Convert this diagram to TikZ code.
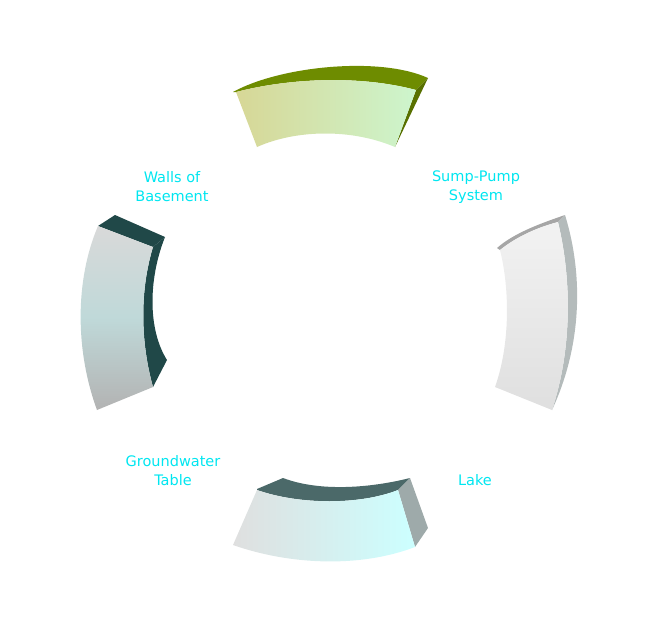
\documentclass[tikz,border=0pt]{standalone}
\usepackage{fontspec}
\setmainfont{DejaVu Sans}
\definecolor{lbl}{RGB}{0,230,240}
\definecolor{olive}{RGB}{110,140,0}
\definecolor{teal}{RGB}{40,90,90}
\definecolor{tan}{RGB}{215,215,150}
\definecolor{mint}{RGB}{205,245,205}
\begin{document}
\begin{tikzpicture}[x=1pt,y=-1pt]
\tikzset{lab/.style={text=lbl,align=center,font=\fontsize{14.5}{19}\selectfont}}
\useasboundingbox (0,0) rectangle (649,638);

% top segment
\fill[olive] (233,92) .. controls (280,66) and (380,56) .. (428,78) -- (416,90) .. controls (360,75) and (290,78) .. (236,92) -- cycle;
\fill[olive!80!black] (428,78) -- (395,147) -- (416,90) -- cycle;
\shade[left color=tan, right color=mint] (236,92) .. controls (290,78) and (360,75) .. (416,90) -- (395,147) .. controls (350,128) and (295,130) .. (257,147) -- cycle;

% right segment
\fill[gray!70] (497,248) .. controls (515,232) and (545,222) .. (565,215) -- (558,222) .. controls (535,228) and (515,238) .. (500,250) -- cycle;
\fill[teal!25!gray!50] (565,215) .. controls (585,280) and (580,350) .. (552,410) .. controls (572,350) and (572,280) .. (558,222) -- cycle;
\shade[top color=gray!10, bottom color=gray!25] (500,250) .. controls (515,238) and (535,228) .. (558,222) .. controls (572,280) and (572,350) .. (552,410) -- (495,387) .. controls (510,345) and (510,290) .. (500,250) -- cycle;

% bottom segment
\fill[teal!60!gray] (257,489) -- (283,478) .. controls (320,492) and (370,488) .. (410,478) -- (398,490) .. controls (360,505) and (300,505) .. (257,490) -- cycle;
\fill[teal!40!gray!60] (398,490) -- (410,478) -- (428,528) -- (415,547) -- cycle;
\shade[left color=gray!25, right color=cyan!20] (257,490) .. controls (300,505) and (360,505) .. (398,490) -- (415,547) .. controls (360,568) and (290,565) .. (233,545) -- cycle;

% left segment
\fill[teal!80!black] (98,226) -- (115,215) -- (165,237) -- (153,247) -- cycle;
\fill[teal!80!black] (153,247) -- (165,237) .. controls (148,280) and (148,330) .. (167,360) -- (153,387) .. controls (140,340) and (140,290) .. (153,247) -- cycle;
\shade[top color=gray!30, bottom color=gray!60, middle color=cyan!25!gray!40] (98,226) -- (153,247) .. controls (140,290) and (140,340) .. (153,387) -- (97,410) .. controls (75,350) and (75,280) .. (98,226) -- cycle;

% labels
\node[lab] (walls) at (172,187) {Walls of\\Basement};
\node[lab] (sump) at (476,187) {Sump-Pump\\System};
\node[lab] (ground) at (173,471) {Groundwater\\Table};
\node[lab] (lake) at (475,480) {Lake};
\end{tikzpicture}
\end{document}
